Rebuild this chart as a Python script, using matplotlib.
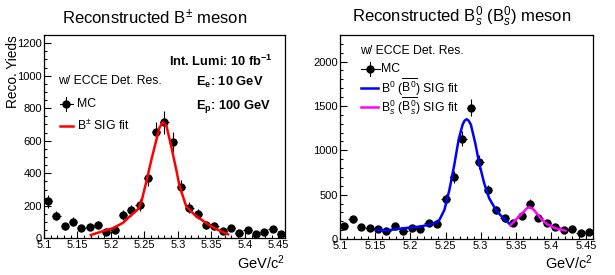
import numpy as np
import matplotlib
matplotlib.use("Agg")
import matplotlib.pyplot as plt
from matplotlib.ticker import MultipleLocator

plt.rcParams['font.family'] = ['Liberation Sans', 'DejaVu Sans']
plt.rcParams['mathtext.fontset'] = 'custom'
plt.rcParams['mathtext.rm'] = 'Liberation Sans'
plt.rcParams['mathtext.it'] = 'Liberation Sans:italic'
plt.rcParams['mathtext.bf'] = 'Liberation Sans:bold'

# B+- panel: 29 bins over 5.10 - 5.46
bpm_counts = [227, 140, 74, 103, 62, 70, 82, 37, 52, 142, 171, 206, 371, 654, 712,
              592, 315, 188, 150, 80, 76, 43, 62, 35, 52, 29, 37, 56, 29]
bpm_errs = [38, 30, 22, 25, 20, 21, 23, 15, 18, 30, 33, 36, 48, 64, 68,
            61, 44, 34, 31, 22, 22, 16, 20, 15, 18, 13, 15, 19, 13]
bpm_fit_x = [5.170, 5.185, 5.203, 5.218, 5.228, 5.2405, 5.2456, 5.253, 5.2605, 5.268,
             5.2724, 5.2778, 5.283, 5.290, 5.2976, 5.3026, 5.3126, 5.325, 5.3425,
             5.357, 5.375]
bpm_fit_y = [20, 40, 62, 95, 134, 179, 226, 350, 484, 608,
             680, 715, 690, 566, 422, 319, 195, 144, 93, 57, 24]

# B0 / Bs panel: 30 bins over 5.10 - 5.46
b0_counts = [147, 223, 132, 121, 109, 87, 147, 91, 128, 113, 185, 166, 453, 698, 1132,
             1478, 868, 555, 328, 234, 185, 260, 396, 241, 177, 132, 102, 113, 64, 83]
b0_errs = [30, 37, 29, 28, 26, 23, 30, 24, 28, 27, 34, 32, 53, 66, 84,
           96, 74, 59, 45, 38, 34, 40, 50, 39, 33, 29, 25, 27, 20, 23]
b0_fit_x = [5.1509, 5.166, 5.1895, 5.213, 5.232, 5.2413, 5.2484, 5.2555, 5.2625, 5.2686,
            5.2743, 5.2771, 5.2799, 5.2828, 5.286, 5.2922, 5.2978, 5.3049, 5.312, 5.3215,
            5.3308, 5.3426]
b0_fit_y = [102, 96, 121, 139, 170, 215, 328, 554, 837, 1120,
            1290, 1335, 1350, 1335, 1290, 1083, 856, 630, 460, 328, 245, 158]
bs_fit_x = [5.3426, 5.352, 5.3614, 5.3655, 5.3685, 5.3715, 5.3756, 5.385, 5.3944,
            5.4062, 5.4204]
bs_fit_y = [158, 234, 309, 345, 358, 352, 328, 234, 166, 121, 94]

xlo, xhi = 5.10, 5.46

fig = plt.figure(figsize=(6.15, 2.75), dpi=100)
ax1 = fig.add_axes([0.0715, 0.1335, 0.3919, 0.7392])
ax2 = fig.add_axes([0.5528, 0.1309, 0.4119, 0.7418])

fs_leg = 8.8
fs_tick = 8


def draw_hist(ax, counts, errs):
    n = len(counts)
    edges = np.linspace(xlo, xhi, n + 1)
    centers = 0.5 * (edges[:-1] + edges[1:])
    half = 0.5 * (edges[1] - edges[0])
    ax.errorbar(centers, counts, yerr=errs, xerr=half, fmt='o', color='black',
                ms=5, elinewidth=0.8, capsize=0, zorder=3)


def style_axes(ax, ymax, ymajor, yminor):
    ax.set_xlim(xlo, xhi)
    ax.set_ylim(0, ymax)
    ax.xaxis.set_major_locator(MultipleLocator(0.05))
    ax.xaxis.set_minor_locator(MultipleLocator(0.01))
    ax.yaxis.set_major_locator(MultipleLocator(ymajor))
    ax.yaxis.set_minor_locator(MultipleLocator(yminor))
    ax.tick_params(which='both', direction='in', top=False, right=False,
                   labelsize=fs_tick, width=0.8)
    ax.tick_params(which='major', length=5, pad=1.5)
    ax.tick_params(which='minor', length=2.5)
    ax.set_xticks([5.1, 5.15, 5.2, 5.25, 5.3, 5.35, 5.4, 5.45])
    ax.set_xticklabels(['5.1', '5.15', '5.2', '5.25', '5.3', '5.35', '5.4', '5.45'])
    for s in ax.spines.values():
        s.set_linewidth(0.9)


def legend_mc(ax, x0, x1, y):
    xm = 0.5 * (x0 + x1)
    ax.plot([x0, x1], [y, y], color='black', lw=0.8, transform=ax.transAxes, clip_on=False)
    ax.plot([xm, xm], [y - 0.035, y + 0.035], color='black', lw=0.8,
            transform=ax.transAxes, clip_on=False)
    ax.plot([xm], [y], 'o', color='black', ms=5, transform=ax.transAxes, clip_on=False)


# left panel
draw_hist(ax1, bpm_counts, bpm_errs)
ax1.plot(bpm_fit_x, bpm_fit_y, color='#ff0000', lw=1.8, zorder=4)
style_axes(ax1, 1250, 200, 50)

ax1.text(0.058, 0.774, 'w/ ECCE Det. Res.', transform=ax1.transAxes, fontsize=fs_leg,
         va='center', ha='left')
legend_mc(ax1, 0.066, 0.12, 0.662)
ax1.text(0.137, 0.662, 'MC', transform=ax1.transAxes, fontsize=fs_leg, va='center')
ax1.plot([0.066, 0.12], [0.552, 0.552], color='#ff0000', lw=1.8, transform=ax1.transAxes)
ax1.text(0.137, 0.552, r'B$^{\pm}$ SIG fit', transform=ax1.transAxes, fontsize=fs_leg,
         va='center')

ax1.text(0.519, 0.868, r'Int. Lumi: 10 fb$^{\mathbf{-1}}$', transform=ax1.transAxes,
         fontsize=9.3, fontweight='bold', va='center')
ax1.text(0.631, 0.766, r'$\mathbf{E_{e}}$: 10 GeV', transform=ax1.transAxes,
         fontsize=9.3, fontweight='bold', va='center')
ax1.text(0.631, 0.646, r'$\mathbf{E_{p}}$: 100 GeV', transform=ax1.transAxes,
         fontsize=9.3, fontweight='bold', va='center')

# right panel
draw_hist(ax2, b0_counts, b0_errs)
ax2.plot(b0_fit_x, b0_fit_y, color='#0000ff', lw=1.8, zorder=4)
ax2.plot(bs_fit_x, bs_fit_y, color='#ff00ff', lw=1.8, zorder=4)
style_axes(ax2, 2300, 500, 100)

ax2.text(0.079, 0.923, 'w/ ECCE Det. Res.', transform=ax2.transAxes, fontsize=fs_leg,
         va='center', ha='left')
legend_mc(ax2, 0.082, 0.158, 0.833)
ax2.text(0.162, 0.833, 'MC', transform=ax2.transAxes, fontsize=fs_leg, va='center')
ax2.plot([0.082, 0.15], [0.742, 0.742], color='#0000ff', lw=1.8, transform=ax2.transAxes)
ax2.text(0.162, 0.742, r'B$^{0}$ ($\overline{\mathrm{B}^{0}}$) SIG fit',
         transform=ax2.transAxes, fontsize=fs_leg, va='center')
ax2.plot([0.082, 0.15], [0.649, 0.649], color='#ff00ff', lw=1.8, transform=ax2.transAxes)
ax2.text(0.162, 0.649, r'B$_{s}^{0}$ ($\overline{\mathrm{B}_{s}^{0}}$) SIG fit',
         transform=ax2.transAxes, fontsize=fs_leg, va='center')

# titles and axis labels
fig.text(0.251, 0.938, r'Reconstructed B$^{\pm}$ meson', ha='center', va='center',
         fontsize=12)
fig.text(0.751, 0.938, r'Reconstructed B$_{s}^{0}$ (B$_{s}^{0}$) meson', ha='center',
         va='center', fontsize=12)
fig.text(0.021, 0.873, 'Reco. Yieds', rotation=90, ha='center', va='top', fontsize=9.8)
fig.text(0.4634, 0.044, r'GeV/c$^{2}$', ha='right', va='center', fontsize=10.5)
fig.text(0.9647, 0.044, r'GeV/c$^{2}$', ha='right', va='center', fontsize=10.5)

fig.savefig('out.png', dpi=100)
plt.close(fig)
